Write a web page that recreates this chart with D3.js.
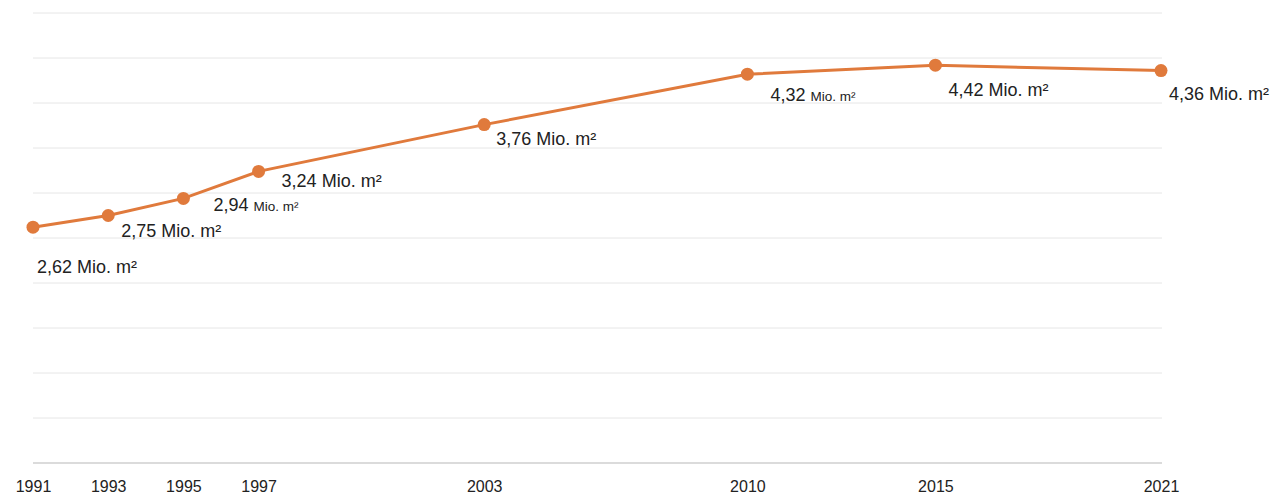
<!DOCTYPE html>
<html>
<head>
<meta charset="utf-8">
<script src="https://cdn.jsdelivr.net/npm/d3@7"></script>
<style>
  body { margin: 0; background: #fff; }
  svg { display: block; font-family: "Liberation Sans", Arial, sans-serif; }
</style>
</head>
<body>
<div id="chart"></div>
<script>
// data
const years = [1991, 1993, 1995, 1997, 2003, 2010, 2015, 2021];
const area = [2.62, 2.75, 2.94, 3.24, 3.76, 4.32, 4.42, 4.36];
const valueLabels = ["2,62", "2,75", "2,94", "3,24", "3,76", "4,32", "4,42", "4,36"];
const yTicks = [0, 0.5, 1, 1.5, 2, 2.5, 3, 3.5, 4, 4.5, 5];

// label placement relative to the point (dx, dy) and unit size
const labelOffset = [[4, 46], [13, 21], [30, 13], [23, 16], [12, 20], [23, 27], [13, 31], [8, 29]];
const smallUnit = [false, false, true, false, false, true, false, false];

const W = 1284, H = 495;
const svg = d3.select("#chart").append("svg")
    .attr("width", W)
    .attr("height", H);

const x = d3.scaleLinear().domain([1991, 2021]).range([33, 1161]);
const y = d3.scaleLinear().domain([0, 5]).range([463, 13]);

// gridlines
svg.append("g")
    .selectAll("line")
    .data(yTicks)
    .join("line")
    .attr("x1", 33)
    .attr("x2", 1162)
    .attr("y1", d => y(d))
    .attr("y2", d => y(d))
    .attr("stroke", d => d === 0 ? "#cfcfcf" : "#e6e6e6")
    .attr("stroke-width", d => d === 0 ? 1.5 : 1);

// x axis labels
const xAxis = svg.append("g")
    .attr("transform", `translate(0, 463)`)
    .call(d3.axisBottom(x).tickValues(years).tickFormat(d3.format("d")).tickSize(0).tickPadding(18));
xAxis.select(".domain").remove();
xAxis.selectAll("text")
    .attr("font-size", 16)
    .attr("font-family", "Liberation Sans, Arial, sans-serif")
    .attr("fill", "#222");

// line
const line = d3.line()
    .x((d, i) => x(years[i]))
    .y(d => y(d));

svg.append("path")
    .datum(area)
    .attr("d", line)
    .attr("fill", "none")
    .attr("stroke", "#e07a3c")
    .attr("stroke-width", 3);

svg.append("g")
    .selectAll("circle")
    .data(area)
    .join("circle")
    .attr("cx", (d, i) => x(years[i]))
    .attr("cy", d => y(d))
    .attr("r", 6.5)
    .attr("fill", "#e07a3c");

// value labels
const labels = svg.append("g")
    .selectAll("text")
    .data(area)
    .join("text")
    .attr("x", (d, i) => x(years[i]) + labelOffset[i][0])
    .attr("y", (d, i) => y(d) + labelOffset[i][1])
    .attr("font-size", 18)
    .attr("fill", "#222");

labels.append("tspan").text((d, i) => valueLabels[i] + " ");
labels.append("tspan")
    .attr("font-size", (d, i) => smallUnit[i] ? 13.5 : 18)
    .text("Mio. m²");
</script>
</body>
</html>
